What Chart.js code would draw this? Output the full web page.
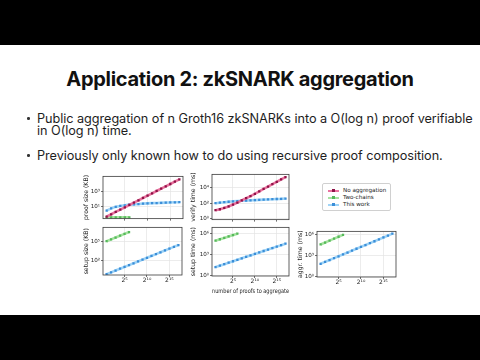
<!DOCTYPE html>
<html>
<head>
<meta charset="utf-8">
<script src="https://cdn.jsdelivr.net/npm/chart.js@4.4.1/dist/chart.umd.min.js"></script>
<style>
  body { margin: 0; width: 480px; height: 360px; background: #000; overflow: hidden; position: relative; }
  #slide { position: absolute; left: 0; top: 45px; width: 480px; height: 270px; background: #fff; }
  .txt { position: absolute; font-family: Inter, "Open Sans", sans-serif; color: #1e1e1e; white-space: nowrap; }
  #title { left: 0; width: 480px; text-align: center; top: 69px; font-size: 20px; font-weight: 700; line-height: 20px; letter-spacing: -0.3px; color: #111; }
  .bul { left: 37px; font-size: 12.7px; line-height: 12px; letter-spacing: -0.05px; }
  .dot { position: absolute; left: 27px; width: 2.6px; height: 2.6px; background: #333; border-radius: 50%; }
  canvas { position: absolute; }
  #legend { position: absolute; left: 322px; top: 183px; width: 67px; height: 26px; border: 0.8px solid #d0d0d0; border-radius: 2px; background: #fff;
            font-family: "DejaVu Sans", sans-serif; font-size: 5.6px; color: #222; }
  .li { position: absolute; left: 5px; width: 60px; height: 7px; }
  .li .ln { position: absolute; left: 0; top: 2.5px; width: 11px; height: 2px; }
  .li .mk { position: absolute; left: 4px; top: 2px; width: 3px; height: 3px; }
  .li span { position: absolute; left: 15px; top: 0; line-height: 7px; white-space: nowrap; }
</style>
</head>
<body>
<div id="slide"></div>
<div class="txt" id="title">Application 2: zkSNARK aggregation</div>
<div class="dot" style="top:117px"></div>
<div class="txt bul" style="top:112.5px">Public aggregation of n Groth16 zkSNARKs into a O(log n) proof verifiable</div>
<div class="txt bul" style="top:124.9px">in O(log n) time.</div>
<div class="dot" style="top:154px"></div>
<div class="txt bul" style="top:149.5px">Previously only known how to do using recursive proof composition.</div>

<canvas id="c1"></canvas>
<canvas id="c2"></canvas>
<canvas id="c3"></canvas>
<canvas id="c4"></canvas>
<canvas id="c5"></canvas>

<div id="legend">
  <div class="li" style="top:3px"><div class="ln" style="background:#e9739f"></div><div class="mk" style="background:#8e1247"></div><span>No aggregation</span></div>
  <div class="li" style="top:10px"><div class="ln" style="background:#a6e3a0"></div><div class="mk" style="background:#55b95a"></div><span>Two-chains</span></div>
  <div class="li" style="top:17px"><div class="ln" style="background:#9fd4f7"></div><div class="mk" style="background:#3b8ed8"></div><span>This work</span></div>
</div>

<script>
// ---------------- DATA ----------------

const proofCounts = [2, 4, 8, 16, 32, 64, 128, 256, 512, 1024, 2048, 4096, 8192, 16384, 32768, 65536, 131072];
const twoChainCounts = [2, 4, 8, 16, 32, 64];

const xTicks = [32, 1024, 32768];
const xTickLabels = ["2⁵", "2¹⁰", "2¹⁵"];

// proof size (KB)
const proofSizeNoAgg = [0.55, 1.1, 2.2, 4.4, 8.8, 17.5, 35, 70, 140, 280, 560, 1120, 2240, 4480, 8960, 17900, 35800];
const proofSizeTwoChains = [0.45, 0.45, 0.45, 0.45, 0.45, 0.45];
const proofSizeThisWork = [3.3, 6.4, 10, 13, 16, 19.5, 21, 23, 26, 28, 30, 31, 33, 35, 37, 39, 40];

// verify time (ms)
const verifyNoAgg = [13, 17, 25, 39, 68, 118, 230, 436, 830, 1600, 3300, 6900, 13000, 28000, 53000, 112000, 213000];
const verifyThisWork = [100, 118, 135, 155, 173, 190, 205, 218, 236, 250, 272, 287, 303, 330, 348, 358, 400];

// setup size (KB)
const setupSizeTwoChains = [130000, 260000, 520000, 1050000, 2100000, 4200000];
const setupSizeThisWork = [0.47, 0.94, 1.9, 3.8, 7.5, 15, 30, 60, 120, 240, 480, 960, 1920, 3840, 7680, 15400, 30700];

// setup time (ms)
const setupTimeTwoChains = [100000, 160000, 250000, 400000, 630000, 1000000];
const setupTimeThisWork = [17, 27, 44, 71, 115, 185, 300, 490, 790, 1280, 2070, 3350, 5400, 8800, 14200, 23000, 37000];

// aggr. time (ms)
const aggTimeTwoChains = [42000, 80000, 150000, 290000, 540000, 1000000];
const aggTimeThisWork = [71, 132, 246, 460, 850, 1600, 2950, 5500, 10200, 19000, 35000, 66000, 122000, 228000, 424000, 790000, 1500000];

// ---------------- HELPERS ----------------

const SUP = { "0": "⁰", "1": "¹", "2": "²", "3": "³", "4": "⁴", "5": "⁵", "6": "⁶", "7": "⁷", "8": "⁸", "9": "⁹" };
const powLabel = v => "10" + String(Math.round(Math.log10(v))).split("").map(c => SUP[c] || c).join("");

const RED = { line: "#e9739f", mark: "#8e1247" };
const GREEN = { line: "#a6e3a0", mark: "#55b95a" };
const BLUE = { line: "#9fd4f7", mark: "#3b8ed8" };

function series(xs, ys, col) {
  return {
    data: xs.map((x, i) => ({ x: x, y: ys[i] })),
    borderColor: col.line,
    borderWidth: 2.6,
    pointStyle: "rect",
    pointRadius: 1.6,
    pointBackgroundColor: col.mark,
    pointBorderWidth: 0,
    tension: 0,
  };
}

const boxPlugin = {
  id: "box",
  afterDraw(chart) {
    const a = chart.chartArea, c = chart.ctx;
    c.save();
    c.strokeStyle = "#3a3a3a";
    c.lineWidth = 0.8;
    c.strokeRect(a.left, a.top, a.right - a.left, a.bottom - a.top);
    c.restore();
  }
};

function makePanel(id, p) {
  const cv = document.getElementById(id);
  const padT = 3, padR = 3;
  cv.width = p.yW + p.w + padR;
  cv.height = padT + p.h + p.xH;
  cv.style.left = (p.left - p.yW) + "px";
  cv.style.top = (p.top - padT) + "px";

  new Chart(cv, {
    type: "line",
    data: { datasets: p.datasets },
    options: {
      responsive: false,
      animation: false,
      layout: { padding: { top: padT, right: padR, left: 0, bottom: 0 } },
      plugins: { legend: { display: false }, tooltip: { enabled: false } },
      scales: {
        x: {
          type: "logarithmic",
          min: 1.15, max: 228000,
          afterBuildTicks: s => { s.ticks = xTicks.map(v => ({ value: v })); },
          afterFit: s => { s.height = p.xH; },
          ticks: {
            display: p.showX,
            callback: (v) => xTickLabels[xTicks.indexOf(v)],
            font: { family: "DejaVu Sans", size: 6 },
            color: "#222",
            padding: 0,
            maxRotation: 0,
          },
          grid: { color: "#e4e4e4", lineWidth: 0.7, tickLength: 2, tickColor: "#333" },
          border: { display: false },
          title: p.xlabel ? { display: true, text: p.xlabel, font: { family: "DejaVu Sans", size: 6.2 }, color: "#222", padding: { top: 2, bottom: 0 } } : { display: false },
        },
        y: {
          type: "logarithmic",
          min: p.ymin, max: p.ymax,
          afterBuildTicks: s => { s.ticks = p.yticks.map(v => ({ value: v })); },
          afterFit: s => { s.width = p.yW; },
          ticks: {
            callback: v => powLabel(v),
            font: { family: "DejaVu Sans", size: 5.6 },
            color: "#222",
            padding: 1,
          },
          grid: { color: "#e4e4e4", lineWidth: 0.7, tickLength: 2, tickColor: "#333" },
          border: { display: false },
          title: { display: true, text: p.ylabel, font: { family: "DejaVu Sans", size: 6.2 }, color: "#222", padding: { top: 0, bottom: 1 } },
        },
      },
    },
    plugins: [boxPlugin],
  });
}

// ---------------- PANELS ----------------

makePanel("c1", {
  left: 103, top: 175, w: 81, h: 45, yW: 20, xH: 3, showX: false,
  ymin: 0.33, ymax: 87000, yticks: [10, 1000], ylabel: "proof size (KB)",
  datasets: [
    series(proofCounts, proofSizeNoAgg, RED),
    series(twoChainCounts, proofSizeTwoChains, GREEN),
    series(proofCounts, proofSizeThisWork, BLUE),
  ],
});

makePanel("c2", {
  left: 212, top: 173, w: 78, h: 48, yW: 22, xH: 3, showX: false,
  ymin: 0.8, ymax: 490000, yticks: [1, 100, 10000], ylabel: "verify time (ms)",
  datasets: [
    series(proofCounts, verifyNoAgg, RED),
    series(proofCounts, verifyThisWork, BLUE),
  ],
});

makePanel("c3", {
  left: 103, top: 226, w: 80, h: 49, yW: 20, xH: 11, showX: true,
  ymin: 0.35, ymax: 25000000, yticks: [100, 100000], ylabel: "setup size (KB)",
  datasets: [
    series(twoChainCounts, setupSizeTwoChains, GREEN),
    series(proofCounts, setupSizeThisWork, BLUE),
  ],
});

makePanel("c4", {
  left: 212, top: 226, w: 78, h: 50, yW: 22, xH: 19, showX: true, xlabel: "number of proofs to aggregate",
  ymin: 0.9, ymax: 8000000, yticks: [1, 1000, 1000000], ylabel: "setup time (ms)",
  datasets: [
    series(twoChainCounts, setupTimeTwoChains, GREEN),
    series(proofCounts, setupTimeThisWork, BLUE),
  ],
});

makePanel("c5", {
  left: 317, top: 229.5, w: 80, h: 47, yW: 20, xH: 11, showX: true,
  ymin: 0.9, ymax: 3200000, yticks: [1, 1000, 1000000], ylabel: "aggr. time (ms)",
  datasets: [
    series(twoChainCounts, aggTimeTwoChains, GREEN),
    series(proofCounts, aggTimeThisWork, BLUE),
  ],
});
</script>
</body>
</html>
